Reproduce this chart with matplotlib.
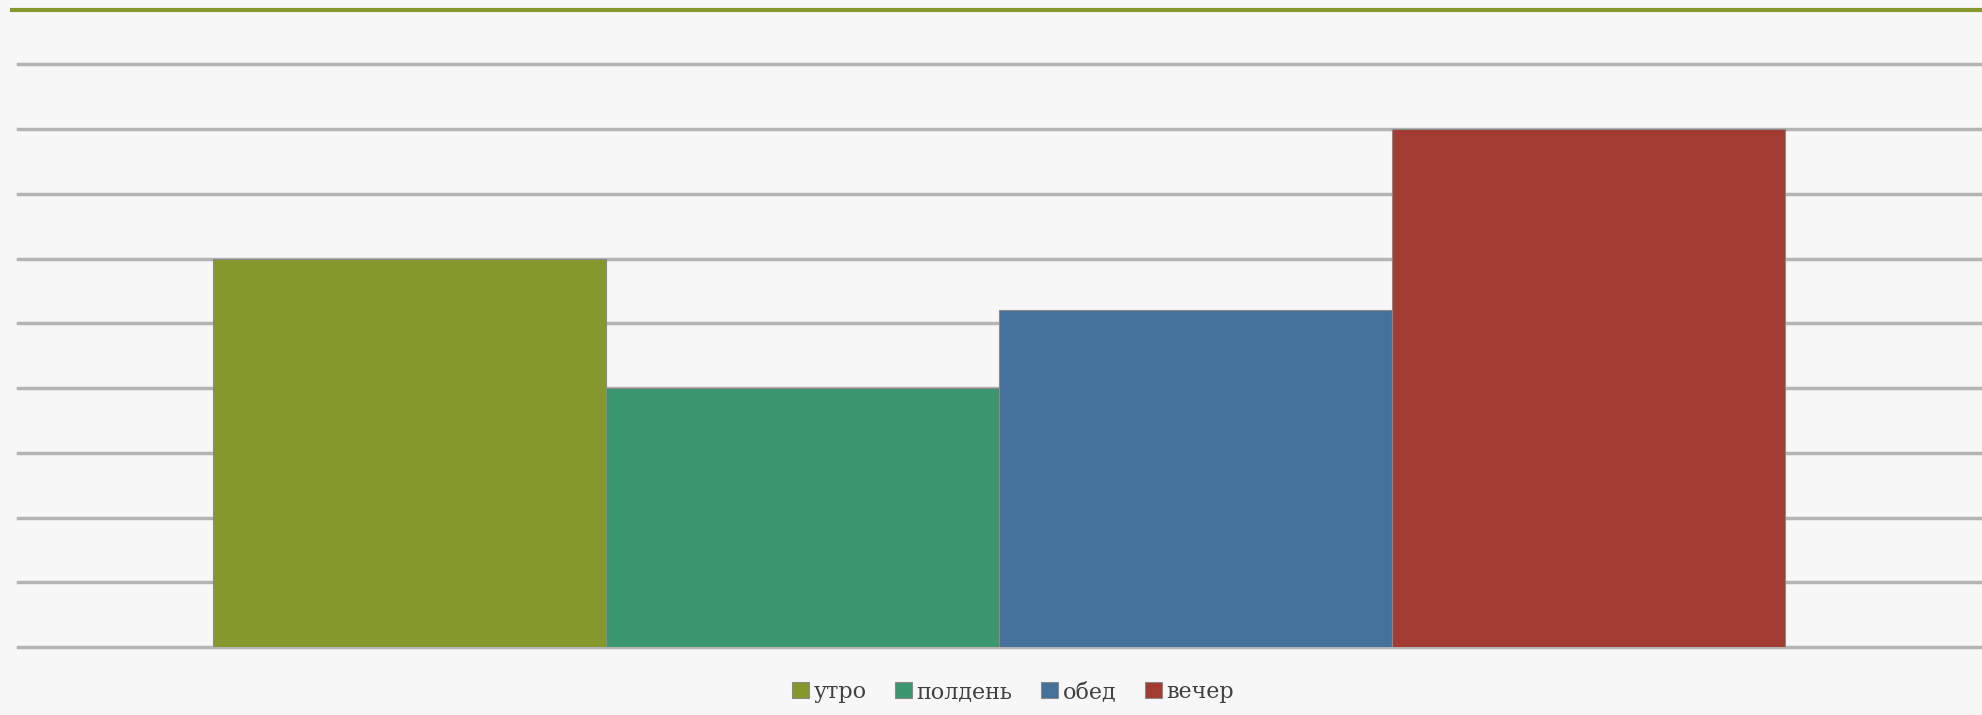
import matplotlib
matplotlib.use("Agg")
import matplotlib.pyplot as plt
from matplotlib.lines import Line2D

# данные
labels = ["утро", "полдень", "обед", "вечер"]
values = [6, 4, 5.2, 8]
colors = ["#84982c", "#3c9670", "#44709c", "#a23b32"]
y_ticks = list(range(0, 10))

fig = plt.figure(figsize=(19.82, 7.15), dpi=100)
fig.patch.set_facecolor("#f7f7f7")

# зелёная линия сверху
fig.add_artist(Line2D([12 / 1982, 1.0], [1 - 10 / 715, 1 - 10 / 715],
                      color="#84982c", linewidth=3))

ax = fig.add_axes([18 / 1982, 68 / 715, 1 - 18 / 1982, 615 / 715])
ax.set_facecolor("#f7f7f7")

for i, (lab, v, c) in enumerate(zip(labels, values, colors)):
    ax.bar(i, v, width=1.0, color=c, edgecolor="#8a8a8a", linewidth=0.8,
           label=lab, zorder=3)

ax.set_xlim(-0.995, 4.0)
ax.set_ylim(0, 9.5)
ax.set_yticks(y_ticks)
ax.yaxis.grid(True, color="#b4b4b4", linewidth=2.5, zorder=0)
for gl in ax.get_ygridlines():
    gl.set_clip_on(False)
ax.tick_params(left=False, bottom=False, labelleft=False, labelbottom=False)
ax.set_xticks([])
for s in ax.spines.values():
    s.set_visible(False)

leg = fig.legend(loc="center", bbox_to_anchor=(1013 / 1982, 1 - 692 / 715),
                 ncol=4, frameon=False, handlelength=0.75, handleheight=0.75,
                 handletextpad=0.2, columnspacing=1.3,
                 prop={"family": "DejaVu Serif", "size": 16})
for t in leg.get_texts():
    t.set_color("#404040")

fig.savefig("out.png", dpi=100, facecolor=fig.get_facecolor())
